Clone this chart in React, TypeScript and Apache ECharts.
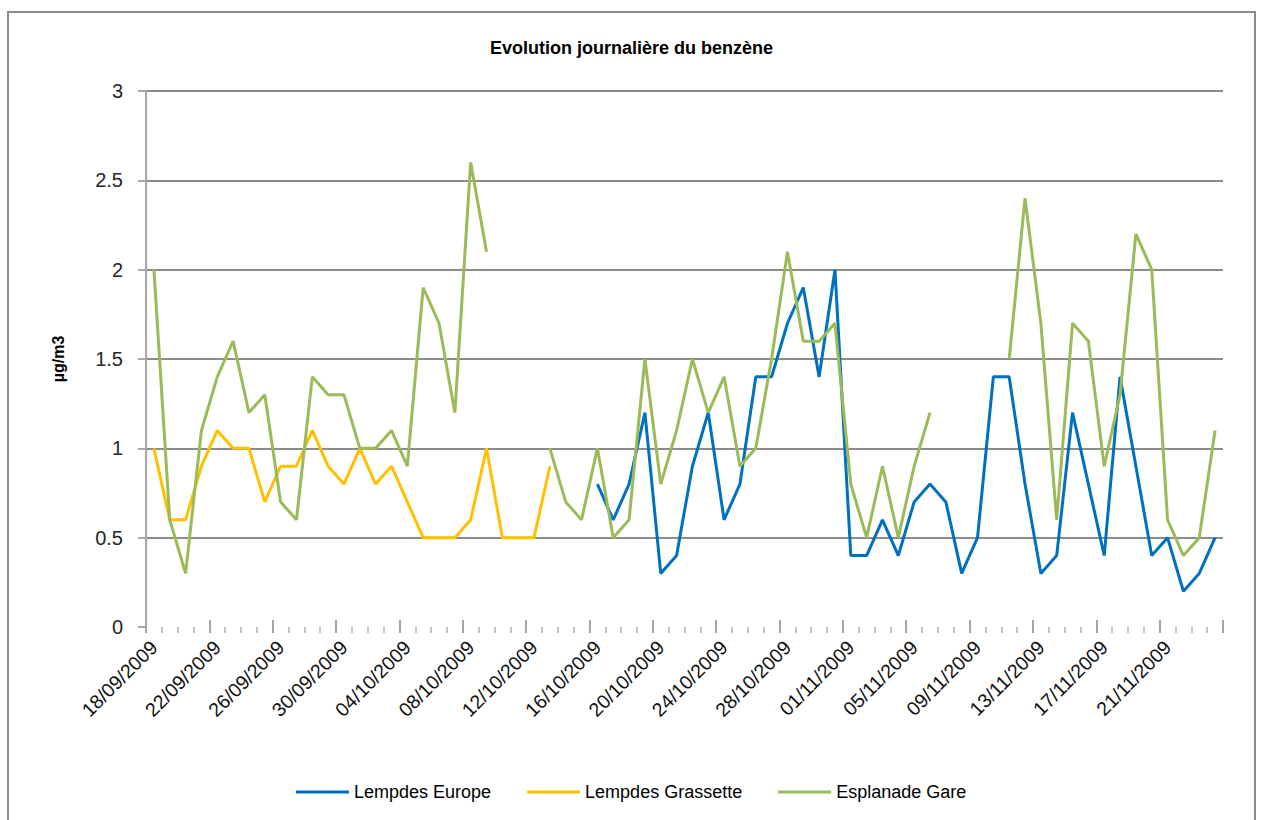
import React, { useEffect, useRef } from "react";
import * as echarts from "echarts";

const categories = [
  "18/09/2009", "19/09/2009", "20/09/2009", "21/09/2009", "22/09/2009", "23/09/2009", "24/09/2009", "25/09/2009",
  "26/09/2009", "27/09/2009", "28/09/2009", "29/09/2009", "30/09/2009", "01/10/2009", "02/10/2009", "03/10/2009",
  "04/10/2009", "05/10/2009", "06/10/2009", "07/10/2009", "08/10/2009", "09/10/2009", "10/10/2009", "11/10/2009",
  "12/10/2009", "13/10/2009", "14/10/2009", "15/10/2009", "16/10/2009", "17/10/2009", "18/10/2009", "19/10/2009",
  "20/10/2009", "21/10/2009", "22/10/2009", "23/10/2009", "24/10/2009", "25/10/2009", "26/10/2009", "27/10/2009",
  "28/10/2009", "29/10/2009", "30/10/2009", "31/10/2009", "01/11/2009", "02/11/2009", "03/11/2009", "04/11/2009",
  "05/11/2009", "06/11/2009", "07/11/2009", "08/11/2009", "09/11/2009", "10/11/2009", "11/11/2009", "12/11/2009",
  "13/11/2009", "14/11/2009", "15/11/2009", "16/11/2009", "17/11/2009", "18/11/2009", "19/11/2009", "20/11/2009",
  "21/11/2009", "22/11/2009", "23/11/2009", "24/11/2009",
];

const seriesNames = ["Lempdes Europe", "Lempdes Grassette", "Esplanade Gare"];

const lempdesEurope = [
  null, null, null, null, null, null, null, null,
  null, null, null, null, null, null, null, null,
  null, null, null, null, null, null, null, null,
  null, null, null, null, 0.8, 0.6, 0.8, 1.2,
  0.3, 0.4, 0.9, 1.2, 0.6, 0.8, 1.4, 1.4,
  1.7, 1.9, 1.4, 2.0, 0.4, 0.4, 0.6, 0.4,
  0.7, 0.8, 0.7, 0.3, 0.5, 1.4, 1.4, 0.8,
  0.3, 0.4, 1.2, 0.8, 0.4, 1.4, 0.9, 0.4,
  0.5, 0.2, 0.3, 0.5,
];

const lempdesGrassette = [
  1.0, 0.6, 0.6, 0.9, 1.1, 1.0, 1.0, 0.7,
  0.9, 0.9, 1.1, 0.9, 0.8, 1.0, 0.8, 0.9,
  0.7, 0.5, 0.5, 0.5, 0.6, 1.0, 0.5, 0.5,
  0.5, 0.9, null, null, null, null, null, null,
  null, null, null, null, null, null, null, null,
  null, null, null, null, null, null, null, null,
  null, null, null, null, null, null, null, null,
  null, null, null, null, null, null, null, null,
  null, null, null, null,
];

const esplanadeGare = [
  2.0, 0.6, 0.3, 1.1, 1.4, 1.6, 1.2, 1.3,
  0.7, 0.6, 1.4, 1.3, 1.3, 1.0, 1.0, 1.1,
  0.9, 1.9, 1.7, 1.2, 2.6, 2.1, null, null,
  null, 1.0, 0.7, 0.6, 1.0, 0.5, 0.6, 1.5,
  0.8, 1.1, 1.5, 1.2, 1.4, 0.9, 1.0, 1.5,
  2.1, 1.6, 1.6, 1.7, 0.8, 0.5, 0.9, 0.5,
  0.9, 1.2, null, null, null, null, 1.5, 2.4,
  1.7, 0.6, 1.7, 1.6, 0.9, 1.3, 2.2, 2.0,
  0.6, 0.4, 0.5, 1.1,
];

const seriesColors = ["#0070C0", "#FFC000", "#9BBB59"];

const FONT = "'Liberation Sans', Arial, sans-serif";

export default function App() {
  const ref = useRef<HTMLDivElement>(null);

  useEffect(() => {
    if (!ref.current) return;
    const chart = echarts.init(ref.current, null, { renderer: "svg" });
    const values = [lempdesEurope, lempdesGrassette, esplanadeGare];
    chart.setOption({
      animation: false,
      backgroundColor: "#ffffff",
      textStyle: { fontFamily: FONT },
      graphic: [
        {
          type: "rect",
          shape: { x: 8, y: 12, width: 1247, height: 830 },
          style: { fill: "none", stroke: "#8c8c8c", lineWidth: 2 },
          silent: true,
        },
      ],
      title: {
        text: "Evolution journalière du benzène",
        left: "center",
        top: 34,
        textStyle: { fontFamily: FONT, fontSize: 18, fontWeight: "bold", color: "#000" },
      },
      legend: {
        data: seriesNames,
        left: 291,
        top: 778,
        icon: "rect",
        itemWidth: 53,
        itemHeight: 3,
        itemGap: 36,
        textStyle: { fontFamily: FONT, fontSize: 18, color: "#000" },
      },
      grid: { left: 146, right: 40, top: 91, bottom: 193, containLabel: false },
      xAxis: [
        {
          type: "category",
          data: categories,
          position: "bottom",
          boundaryGap: true,
          axisLine: { show: false },
          axisTick: { show: true, interval: 0, length: 6, lineStyle: { color: "#c4c4c4", width: 2 } },
          axisLabel: {
            interval: 3,
            rotate: 45,
            margin: 17,
            fontFamily: FONT,
            fontSize: 19.5,
            color: "#111",
          },
          splitLine: { show: false },
        },
        {
          type: "category",
          data: categories,
          position: "bottom",
          offset: -7,
          boundaryGap: true,
          axisLine: { show: false },
          axisTick: { show: true, interval: 3, length: 13, lineStyle: { color: "#a6a6a6", width: 2 } },
          axisLabel: { show: false },
          splitLine: { show: false },
        },
      ],
      yAxis: {
        type: "value",
        min: 0,
        max: 3,
        interval: 0.5,
        name: "µg/m3",
        nameLocation: "middle",
        nameGap: 80,
        nameRotate: 90,
        nameTextStyle: { fontFamily: FONT, fontSize: 16, fontWeight: "bold", color: "#000" },
        axisLine: { show: true, lineStyle: { color: "#a6a6a6", width: 2 } },
        axisTick: { show: true, length: 8, lineStyle: { color: "#a6a6a6", width: 2 } },
        axisLabel: { margin: 23, fontFamily: FONT, fontSize: 20, color: "#262626" },
        splitLine: {
          show: true,
          lineStyle: {
            color: ["rgba(0,0,0,0)", "#8c8c8c", "#8c8c8c", "#8c8c8c", "#8c8c8c", "#8c8c8c", "#8c8c8c"],
            width: 2,
          },
        },
      },
      series: seriesNames.map((name, i) => ({
        name,
        type: "line",
        xAxisIndex: 0,
        data: values[i],
        symbol: "none",
        connectNulls: false,
        itemStyle: { color: seriesColors[i] },
        lineStyle: { color: seriesColors[i], width: 3 },
      })),
    });
    return () => chart.dispose();
  }, []);

  return (
    <div
      ref={ref}
      style={{ position: "fixed", left: 0, top: 0, width: 1263, height: 820, background: "#fff" }}
    />
  );
}
